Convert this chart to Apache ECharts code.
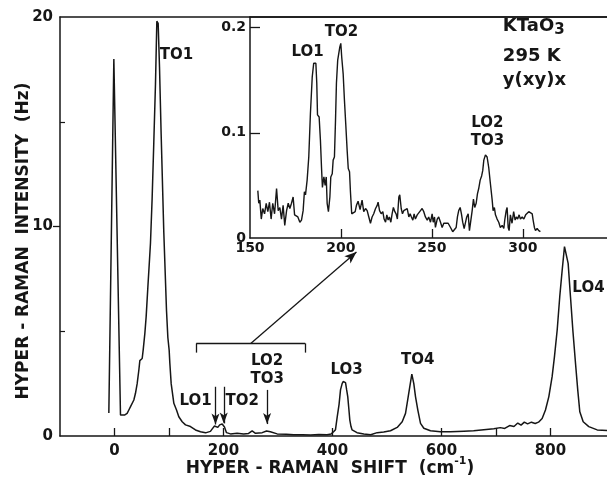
<!DOCTYPE html>
<html><head><meta charset="utf-8">
<script src="https://cdn.jsdelivr.net/npm/echarts@6/dist/echarts.min.js"></script>
<style>html,body{margin:0;padding:0;background:#fff}#c{width:607px;height:482px}</style>
</head><body><div id="c"></div>
<script>
// Main spectrum (cm^-1, Hz)
const mainShift = [-10.4,-1.2,11,14.1,18.3,23.2,26.3,29.4,32.4,35.5,38.5,41.6,44.7,46.5,50.8,52.6,55.7,58.1,61.2,64.2,66,69,72.1,75.2,77.7,80.1,82.6,85.6,90.5,95.4,97.9,100.3,101.5,104,108.9,113.8,118,124.2,130.3,139.4,148.6,157.8,167,176,179,183.5,189.6,193,197.6,201.8,205.5,212.8,225,237,246,252.6,258.7,271,279,286,298.5,315,329,345,360,375,390,397.6,402,405.5,408.6,412,414.7,417.7,419.6,422,423.9,426,428,430,431.8,434,436,445,457.5,470,482,494,506.4,518.7,527.9,534,538,541.8,545.6,549.2,552.3,556.6,561.5,567.6,579.8,598,616.5,641,659,677.6,696,708,716,725,733,740,746,752,758,765,772,778,784.7,790.8,797,803,807.3,812.3,817,821.4,825.7,828.7,832.4,836.7,841,845.9,850,853.8,860,870.3,885.7,904,915];
const mainIntensity = [1.1,18.0,1.0,0.92,1.0,1.08,1.24,1.4,1.48,1.72,2.04,2.5,3.15,3.6,3.7,4.1,4.9,5.7,7.1,8.4,9.2,11.3,14.0,16.8,19.8,19.7,17.6,14.4,9.7,6.0,4.7,4.1,3.5,2.5,1.56,1.24,0.92,0.68,0.53,0.45,0.29,0.2,0.15,0.22,0.33,0.48,0.41,0.53,0.57,0.43,0.16,0.1,0.13,0.1,0.12,0.24,0.13,0.16,0.24,0.2,0.1,0.08,0.06,0.06,0.05,0.07,0.06,0.1,0.2,0.3,0.9,1.5,2.2,2.5,2.6,2.62,2.55,2.2,1.88,1.3,0.76,0.45,0.29,0.16,0.1,0.06,0.16,0.19,0.25,0.41,0.68,1.08,1.72,2.35,2.95,2.5,1.88,1.24,0.6,0.37,0.25,0.2,0.2,0.23,0.25,0.3,0.35,0.4,0.36,0.5,0.45,0.62,0.52,0.66,0.58,0.66,0.6,0.66,0.84,1.24,1.88,2.83,3.79,5.06,6.65,7.9,9.04,9.1,8.24,6.65,5.06,3.47,2.2,1.16,0.68,0.45,0.29,0.26,0.25];

// Inset spectrum (cm^-1, Hz)
const insetShift = [154.3,154.8,155.4,156.2,157.0,158.0,158.9,159.8,160.7,161.6,162.5,163.5,164.6,165.5,166.4,167.3,168.2,169.1,170.1,171.0,171.9,172.8,173.7,174.5,175.4,176.3,177.4,178.3,179.2,179.9,180.5,181.4,182.3,183.2,184.2,185.0,186.2,186.7,187.1,188.0,188.7,189.3,189.8,190.6,191.3,191.9,192.4,193.1,193.9,194.4,195.2,195.7,196.4,197.0,197.5,198.2,198.8,199.3,199.9,200.4,201.2,201.9,202.6,203.4,204.0,204.7,205.2,205.9,206.7,207.8,208.5,209.4,210.5,211.6,212.5,213.5,214.4,215.3,216.2,217.1,218.0,219.0,219.9,220.4,221.2,222.1,223.0,223.7,224.5,225.2,225.9,226.6,227.4,228.1,228.8,229.6,230.3,231.0,231.8,232.3,233.1,233.8,234.5,235.4,236.4,237.3,238.0,238.7,239.5,240.2,240.9,241.9,242.7,243.7,244.6,245.5,246.4,247.4,248.2,249.2,250.1,250.7,251.4,251.9,252.9,253.7,254.7,255.6,256.5,257.4,258.9,260.2,261.4,262.4,263.3,264.0,264.7,265.5,266.2,266.9,267.7,268.4,269.1,269.9,270.6,271.3,272.1,272.8,273.5,274.3,275.0,275.7,276.5,277.3,277.9,278.5,279.4,280.3,281.2,282.1,283.1,283.6,284.3,284.9,285.8,286.7,287.6,288.6,289.5,290.0,290.8,291.3,291.9,292.4,293.1,294.0,294.9,295.7,296.4,297.1,297.9,298.6,299.6,300.5,301.5,302.4,303.2,304.1,305.1,305.6,306.3,306.9,307.8,308.7,309.6];
const insetIntensity = [0.045,0.033,0.036,0.018,0.028,0.023,0.033,0.025,0.034,0.018,0.033,0.023,0.047,0.026,0.029,0.018,0.031,0.012,0.026,0.033,0.028,0.033,0.039,0.022,0.023,0.020,0.015,0.017,0.026,0.044,0.041,0.055,0.077,0.118,0.153,0.166,0.166,0.147,0.117,0.115,0.093,0.067,0.048,0.058,0.050,0.058,0.033,0.025,0.039,0.058,0.061,0.074,0.077,0.112,0.147,0.169,0.170,0.181,0.185,0.172,0.156,0.131,0.109,0.083,0.066,0.063,0.044,0.023,0.023,0.025,0.031,0.035,0.027,0.036,0.025,0.028,0.026,0.020,0.014,0.020,0.023,0.028,0.031,0.034,0.026,0.023,0.025,0.018,0.015,0.022,0.017,0.020,0.015,0.023,0.029,0.025,0.023,0.018,0.039,0.041,0.028,0.023,0.026,0.025,0.028,0.020,0.023,0.020,0.017,0.023,0.018,0.022,0.023,0.026,0.028,0.025,0.020,0.017,0.020,0.015,0.023,0.015,0.020,0.010,0.018,0.020,0.015,0.010,0.014,0.015,0.014,0.010,0.006,0.007,0.010,0.020,0.026,0.029,0.023,0.015,0.009,0.010,0.020,0.023,0.007,0.007,0.026,0.037,0.029,0.033,0.042,0.047,0.055,0.059,0.064,0.074,0.079,0.077,0.067,0.052,0.036,0.026,0.029,0.022,0.018,0.015,0.010,0.012,0.009,0.017,0.026,0.029,0.010,0.007,0.022,0.014,0.025,0.017,0.020,0.018,0.022,0.018,0.020,0.018,0.022,0.023,0.025,0.025,0.023,0.017,0.010,0.007,0.009,0.007,0.006];

// Tick labels
const mainXLabels = [0, 200, 400, 600, 800];
const mainXTickMarks = [0, 100, 200, 400, 600, 700, 800];
const mainYLabels = [0, 10, 20];
const mainYMinorTicks = [5, 15];
const insetXLabels = [150, 200, 250, 300];
const insetXTickMarks = [200, 250, 300];
const insetYLabels = [0, 0.1, 0.2];
const insetYTickMarks = [0.1, 0.2];

const FONT = 'DejaVu Sans';
const INK = '#161616';
const zip = (a, b) => a.map((v, i) => [v, b[i]]);

const lblBase = {color: INK, fontFamily: FONT, fontWeight: 'bold'};
const frameLine = {show: true, onZero: false, lineStyle: {color: INK, width: 1.5}};
const topFrame = (gi, min, max) => ({gridIndex: gi, type: 'value', position: 'top', min, max,
  axisLine: frameLine, axisTick: {show: false}, axisLabel: {show: false}, splitLine: {show: false}});

const chart = echarts.init(document.getElementById('c'), null, {renderer: 'canvas'});
chart.setOption({
  animation: false,
  backgroundColor: '#fff',
  grid: [
    {left: 60, top: 17, right: 0, height: 419, show: true, borderWidth: 0, backgroundColor: 'transparent'},
    {left: 250, top: 17, right: 0, height: 221, show: true, borderWidth: 0, backgroundColor: '#fff'}
  ],
  xAxis: [
    {gridIndex: 0, type: 'value', min: -100, max: 903.7, interval: 100,
     axisLine: frameLine,
     axisTick: {show: true, inside: true, length: 8, customValues: mainXTickMarks, lineStyle: {color: INK, width: 1.3}},
     axisLabel: {show: true, customValues: mainXLabels, margin: 8, fontSize: 15, ...lblBase},
     splitLine: {show: false}},
    {gridIndex: 1, type: 'value', min: 150, max: 346.2, interval: 50,
     axisLine: frameLine,
     axisTick: {show: true, inside: true, length: 9, customValues: insetXTickMarks, lineStyle: {color: INK, width: 1.3}},
     axisLabel: {show: true, customValues: insetXLabels, margin: 3, fontSize: 14, ...lblBase},
     splitLine: {show: false}},
    topFrame(0, -100, 903.7),
    topFrame(1, 150, 346.2)
  ],
  yAxis: [
    {gridIndex: 0, type: 'value', min: 0, max: 20, interval: 10,
     axisLine: frameLine,
     axisTick: {show: true, inside: false, length: 7, customValues: [10], lineStyle: {color: INK, width: 1.3}},
     axisLabel: {show: true, customValues: mainYLabels, margin: 7, fontSize: 15, ...lblBase},
     splitLine: {show: false}},
    {gridIndex: 0, type: 'value', min: 0, max: 20, interval: 5, position: 'left',
     axisLine: {show: false, onZero: false},
     axisTick: {show: true, inside: true, length: 5, customValues: mainYMinorTicks, lineStyle: {color: INK, width: 1.2}},
     axisLabel: {show: false},
     splitLine: {show: false}},
    {gridIndex: 1, type: 'value', min: 0, max: 0.21, interval: 0.1,
     axisLine: frameLine,
     axisTick: {show: true, inside: true, length: 10, customValues: insetYTickMarks, lineStyle: {color: INK, width: 1.3}},
     axisLabel: {show: true, customValues: insetYLabels, margin: 4, fontSize: 14, ...lblBase,
                 formatter: v => (v === 0 ? '0' : String(Math.round(v * 10) / 10))},
     splitLine: {show: false}}
  ],
  series: [
    {type: 'line', xAxisIndex: 0, yAxisIndex: 0, data: zip(mainShift, mainIntensity),
     showSymbol: false, symbol: 'none', lineStyle: {color: INK, width: 1.5}, silent: true, z: 3,
     markLine: {
       silent: true, symbol: ['none', 'none'], label: {show: false},
       lineStyle: {color: INK, width: 1.3, type: 'solid'},
       data: [
         [{coord: [185.3, 2.35], symbol: 'none'}, {coord: [185.3, 0.55], symbol: 'arrow', symbolSize: [6, 11]}],
         [{coord: [200.5, 2.35], symbol: 'none'}, {coord: [200.5, 0.6], symbol: 'arrow', symbolSize: [6, 11]}],
         [{coord: [280, 2.2], symbol: 'none'}, {coord: [280, 0.57], symbol: 'arrow', symbolSize: [6, 11]}],
         [{coord: [150, 3.98]}, {coord: [150, 4.42]}],
         [{coord: [150, 4.42]}, {coord: [350, 4.42]}],
         [{coord: [350, 4.42]}, {coord: [350, 3.98]}],
         [{coord: [250, 4.42], symbol: 'none'}, {coord: [444, 8.78], symbol: 'arrow', symbolSize: [7, 12]}]
       ]
     },
     markPoint: {
       silent: true, symbol: 'circle', symbolSize: 1, itemStyle: {color: 'rgba(0,0,0,0)'},
       label: {show: true, position: 'inside', formatter: p => p.name, fontSize: 15, lineHeight: 18, ...lblBase},
       data: [
         {name: 'TO1', coord: [113.8, 18.2]},
         {name: 'LO1', coord: [148.6, 1.67]},
         {name: 'TO2', coord: [234.3, 1.67]},
         {name: 'LO2\nTO3', coord: [280.2, 3.13]},
         {name: 'LO3', coord: [425.7, 3.15]},
         {name: 'TO4', coord: [556.5, 3.63]},
         {name: 'LO4', coord: [869.7, 7.06]}
       ]
     }},
    {type: 'line', xAxisIndex: 1, yAxisIndex: 2, data: zip(insetShift, insetIntensity),
     showSymbol: false, symbol: 'none', lineStyle: {color: INK, width: 1.4}, silent: true, z: 4,
     markPoint: {
       silent: true, symbol: 'circle', symbolSize: 1, itemStyle: {color: 'rgba(0,0,0,0)'},
       label: {show: true, position: 'inside', formatter: p => p.name, fontSize: 15, lineHeight: 18, ...lblBase},
       data: [
         {name: 'LO1', coord: [181.6, 0.177]},
         {name: 'TO2', coord: [200.3, 0.196]},
         {name: 'LO2\nTO3', coord: [280.5, 0.101]},
         {name: '{a|KTaO}{b|3}', coord: [288.7, 0.2013],
          label: {position: 'right', distance: 0, rich: {a: {fontSize: 18, ...lblBase}, b: {fontSize: 15, padding: [8, 0, 0, 0], ...lblBase}}}},
         {name: '295 K', coord: [288.7, 0.1728], label: {position: 'right', distance: 0, fontSize: 18}},
         {name: 'y(xy)x', coord: [288.7, 0.1498], label: {position: 'right', distance: 0, fontSize: 18}}
       ]
     }}
  ],
  graphic: [
    {type: 'text', x: 330, y: 469, silent: true,
     style: {text: '{a|HYPER - RAMAN  SHIFT  (cm}{s|-1}{a|)}', align: 'center', verticalAlign: 'middle',
             rich: {a: {fontSize: 17, fontFamily: FONT, fontWeight: 'bold', fill: INK},
                    s: {fontSize: 11, fontFamily: FONT, fontWeight: 'bold', fill: INK, padding: [0, 0, 16, 0]}}}},
    {type: 'text', x: 24, y: 241, rotation: Math.PI / 2, silent: true,
     style: {text: 'HYPER - RAMAN  INTENSITY  (Hz)', align: 'center', verticalAlign: 'middle',
             fontSize: 17, fontFamily: FONT, fontWeight: 'bold', fill: INK}}
  ]
});
</script>
</body></html>
